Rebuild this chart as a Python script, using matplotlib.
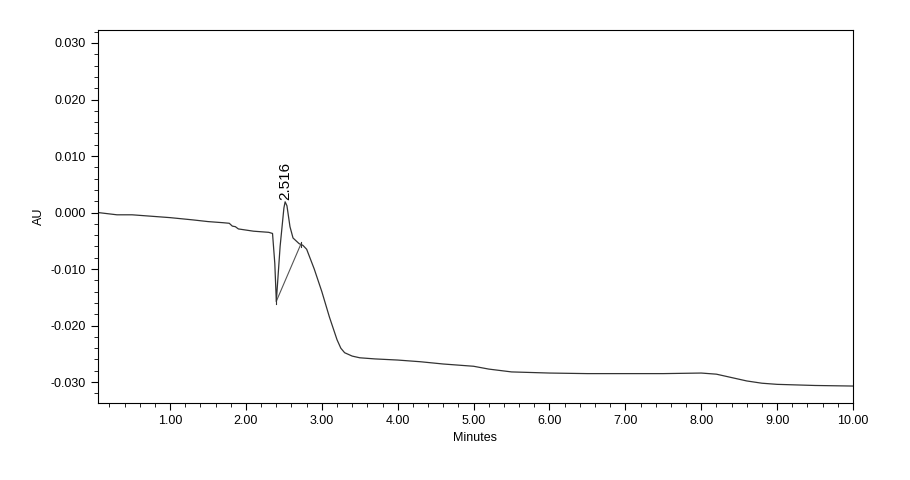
import matplotlib
matplotlib.use("Agg")
import matplotlib.pyplot as plt
import numpy as np

t = [0.05,0.3,0.5,0.8,1.0,1.3,1.5,1.7,1.78,1.82,1.86,1.9,2.0,2.1,2.3,2.35,2.38,2.40,2.45,2.50,2.516,2.54,2.58,2.62,2.7,2.75,2.8,2.9,3.0,3.1,3.2,3.25,3.3,3.4,3.5,3.7,4.0,4.3,4.6,4.8,5.0,5.2,5.5,6.0,6.5,7.0,7.5,8.0,8.2,8.4,8.6,8.8,9.0,9.5,10.0]
au = [0.0,-0.0004,-0.0004,-0.0007,-0.0009,-0.0013,-0.0016,-0.0018,-0.0019,-0.0024,-0.0025,-0.0029,-0.0031,-0.0033,-0.0035,-0.0037,-0.0090,-0.0157,-0.0060,0.0008,0.0019,0.0012,-0.0025,-0.0045,-0.0055,-0.0058,-0.0065,-0.0100,-0.0140,-0.0185,-0.0225,-0.0240,-0.0248,-0.0254,-0.0257,-0.0259,-0.0261,-0.0264,-0.0268,-0.0270,-0.0272,-0.0277,-0.0282,-0.0284,-0.0285,-0.0285,-0.0285,-0.0284,-0.0286,-0.0292,-0.0298,-0.0302,-0.0304,-0.0306,-0.0307]
peak_rt = 2.516
peak_au = 0.0019
base_t = [2.40, 2.72]
base_au = [-0.0157, -0.0057]

fig = plt.figure(figsize=(9.1,4.8), dpi=100)
ax = fig.add_axes([98/910, 1-403/480, (853-98)/910, (403-30)/480])
ax.plot(t, au, color="#333333", lw=0.9)
ax.plot(base_t, base_au, color="#555555", lw=0.8)
ax.plot([base_t[0]]*2, [base_au[0]-0.0004, base_au[0]+0.0004], color="#333333", lw=0.8)
ax.plot([base_t[1]]*2, [base_au[1]-0.0004, base_au[1]+0.0004], color="#333333", lw=0.8)
ax.text(peak_rt, peak_au+0.0004, f"{peak_rt:.3f}", rotation=90, ha="center", va="bottom", fontsize=11, family="Liberation Sans")
ax.set_xlim(0.05, 10.0)
ax.set_ylim(-0.0337, 0.0323)
ax.set_xticks(np.arange(1,11))
ax.set_xticklabels([f"{v:.2f}" for v in range(1,11)])
ax.set_xticks(np.arange(0.2,10.01,0.2), minor=True)
ax.set_yticks([-0.03,-0.02,-0.01,0,0.01,0.02,0.03])
ax.set_yticklabels(["-0.030","-0.020","-0.010","0.000","0.010","0.020","0.030"])
ax.set_yticks(np.arange(-0.032,0.0321,0.002), minor=True)
ax.tick_params(direction="out", labelsize=9, length=5)
ax.tick_params(which="minor", length=3)
for lab in ax.get_xticklabels()+ax.get_yticklabels():
    lab.set_family("Liberation Sans")
ax.set_xlabel("Minutes", fontsize=9, family="Liberation Sans")
ax.set_ylabel("AU", fontsize=9, family="Liberation Sans")
fig.savefig("out.png", dpi=100)
